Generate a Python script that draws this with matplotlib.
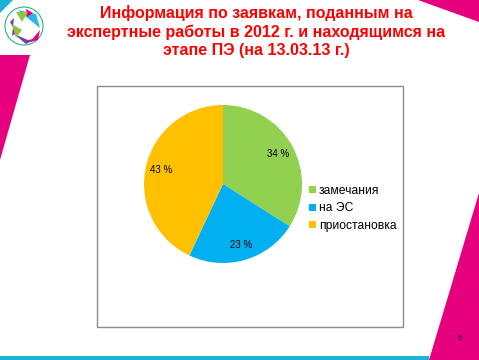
import matplotlib
matplotlib.use('Agg')
import matplotlib.pyplot as plt
from matplotlib.patches import Polygon, Rectangle, Circle
import numpy as np

plt.rcParams['font.family'] = ['Liberation Sans', 'DejaVu Sans']

# Данные
categories = ['замечания', 'на ЭС', 'приостановка']
shares = [34, 23, 43]
colors = ['#92D050', '#00B0F0', '#FFC000']
title_lines = ['Информация по заявкам, поданным на',
               'экспертные работы в 2012 г. и находящимся на',
               'этапе ПЭ (на 13.03.13 г.)']
page_number = '5'

W, H = 479, 360
fig = plt.figure(figsize=(W / 100, H / 100), dpi=100)

# фон слайда (координаты в пикселях)
bg = fig.add_axes([0, 0, 1, 1])
bg.set_xlim(0, W)
bg.set_ylim(H, 0)
bg.axis('off')

magenta = '#E6007E'
cyan = '#1AB5D5'
bg.add_patch(Polygon([(0, 55), (30, 55), (0, 160)], color=magenta, lw=0))
bg.add_patch(Polygon([(418, 0), (479, 0), (479, 22)], color=magenta, lw=0))
bg.add_patch(Polygon([(479, 193), (429, 360), (479, 360)], color=magenta, lw=0))
bg.add_patch(Rectangle((0, 356), 429, 4, color=cyan, lw=0))
bg.add_patch(Polygon([(0, 0), (13, 0), (0, 13)], color=cyan, lw=0))

# логотип
bg.add_patch(Circle((24, 26), 19, fill=False, ec='#2BAE8E', lw=0.8))
bg.add_patch(Polygon([(18, 10), (36, 14), (40, 28), (30, 20)], color='#29B6E8', lw=0))
bg.add_patch(Polygon([(26, 9), (33, 13), (27, 17)], color='#E6007E', lw=0))
bg.add_patch(Polygon([(10, 22), (14, 18), (12, 36), (16, 33)], color='#7B3FA0', lw=0))
bg.add_patch(Polygon([(16, 12), (28, 12), (22, 22)], color='#8DC63F', lw=0))
bg.add_patch(Polygon([(14, 34), (26, 44), (38, 38), (28, 40)], color='#7B3FA0', lw=0))
bg.add_patch(Polygon([(12, 24), (16, 38), (22, 30)], color='#8DC63F', lw=0))
bg.add_patch(Polygon([(30, 42), (40, 30), (38, 40)], color='#E6007E', lw=0))

# рамка диаграммы
bg.add_patch(Rectangle((97, 86), 306, 241, fill=False, ec='#8C8C8C', lw=1))

# заголовок
for i, line in enumerate(title_lines):
    bg.text(256, 13 + i * 19, line, color='#FF0000', fontsize=11.5,
            fontweight='bold', ha='center', va='center')

bg.text(460, 339, page_number, fontsize=5.5, ha='center', va='center', color='black')

# круговая диаграмма
cx, cy, r = 223, 184, 79
ax = fig.add_axes([(cx - r) / W, 1 - (cy + r) / H, 2 * r / W, 2 * r / H])
wedges, texts, autotexts = ax.pie(shares, colors=colors, startangle=90, counterclock=False,
                                  autopct=lambda p: f'{p:.0f} %', pctdistance=0.8,
                                  wedgeprops=dict(linewidth=0),
                                  textprops=dict(fontsize=7, color='black'))
ax.set_xlim(-1, 1)
ax.set_ylim(-1, 1)

fig.legend(wedges, categories, loc='upper left', bbox_to_anchor=(309 / W, 1 - 185 / H),
           frameon=False, fontsize=8.7, handlelength=0.55, handleheight=0.55,
           handletextpad=0.25, labelspacing=0.45, borderpad=0, borderaxespad=0)

fig.savefig('out.png', dpi=100)
